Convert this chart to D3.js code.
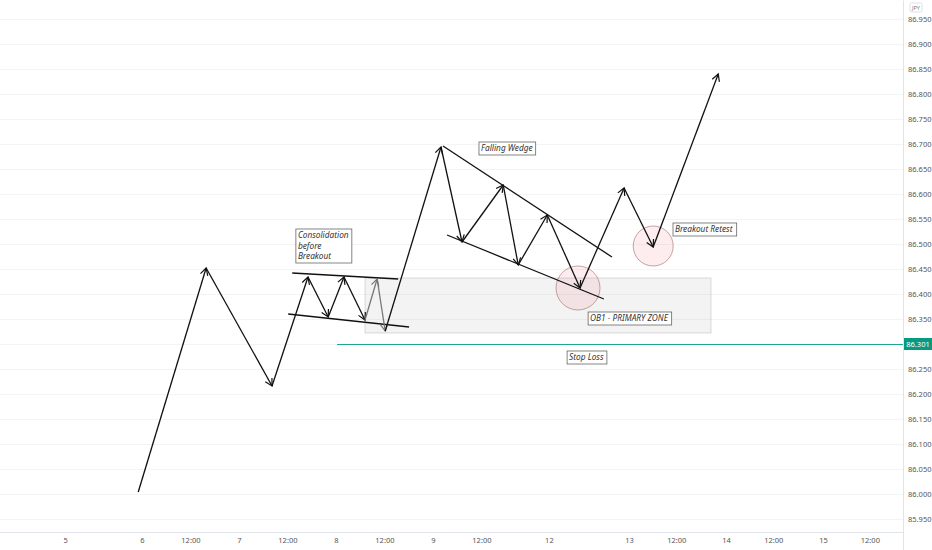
<!DOCTYPE html>
<html>
<head>
<meta charset="utf-8">
<script src="https://cdn.jsdelivr.net/npm/d3@7"></script>
<style>
  body { margin: 0; background: #fff; }
  svg { display: block; }
</style>
</head>
<body>
<script>
// x values are trading hours from the "5" tick, y values are USD/JPY-like prices
const xTickValues = [0, 19, 31, 43, 55, 67, 79, 91, 103, 119.7, 139.5, 151.2, 163.5, 175.2, 187.5, 199.1];
const xTickLabels = ["5", "6", "12:00", "7", "12:00", "8", "12:00", "9", "12:00", "12", "13", "12:00", "14", "12:00", "15", "12:00"];

const yTicks = d3.range(0, 21).map(i => +(85.95 + i * 0.05).toFixed(3));

// main zigzag path (each leg ends in an arrow)
const pathX = [18.1, 34.9, 51.2, 60.1, 65.1, 69.0, 74.2, 77.2, 79.2, 93.0, 98.2, 108.4, 112.1, 119.3, 127.4, 138.3, 145.5, 161.6];
const pathY = [86.004, 86.452, 86.216, 86.434, 86.354, 86.434, 86.348, 86.430, 86.326, 86.694, 86.504, 86.618, 86.458, 86.558, 86.412, 86.612, 86.494, 86.840];
const greyLegs = [7, 8]; // legs ending at these indexes are drawn grey

// trend lines [x1, y1, x2, y2]
const trendLines = [
  [56.2, 86.442, 82.4, 86.430],
  [55.2, 86.360, 85.1, 86.334],
  [93.5, 86.696, 135.3, 86.474],
  [94.5, 86.518, 133.3, 86.390]
];

const zone = { x1: 74.2, x2: 159.8, top: 86.432, bottom: 86.322 };
const stopLoss = { x: 67.3, price: 86.301 };

const circleX = [126.9, 145.5];
const circleY = [86.412, 86.496];
const circleR = [22, 20];

const noteText = [["Consolidation", "before", "Breakout"], ["Falling Wedge"], ["Breakout Retest"], ["OB1 - PRIMARY ZONE"], ["Stop Loss"]];
const noteX = [57.1, 102.4, 150.4, 129.4, 124.2];
const noteY = [86.530, 86.704, 86.542, 86.364, 86.286];

const width = 932, height = 550;
const plotRight = 903, plotBottom = 532;

const svg = d3.select("body").append("svg")
  .attr("width", width)
  .attr("height", height)
  .attr("viewBox", [0, 0, width, height]);

const x = d3.scaleLinear().domain([-16.1, 207.3]).range([0, plotRight]);
const y = d3.scaleLinear().domain([85.924, 86.988]).range([plotBottom, 0]);

// grid
svg.append("g").selectAll("line")
  .data(yTicks)
  .enter().append("line")
  .attr("x1", 0).attr("x2", plotRight)
  .attr("y1", d => Math.round(y(d)) + 0.5).attr("y2", d => Math.round(y(d)) + 0.5)
  .style("stroke", "#f3f4f6");

// right axis
const yAxis = svg.append("g")
  .attr("transform", `translate(${plotRight},0)`)
  .call(d3.axisRight(y).tickValues(yTicks).tickFormat(d3.format(".3f")).tickSize(0).tickPadding(5));
yAxis.select(".domain").style("stroke", "#e0e3eb");
yAxis.selectAll("text")
  .style("font-family", "'Noto Sans', sans-serif")
  .style("font-size", "7.5px")
  .style("fill", "#555");

// bottom axis
const xAxis = svg.append("g")
  .attr("transform", `translate(0,${plotBottom})`)
  .call(d3.axisBottom(x).tickValues(xTickValues).tickFormat((d, i) => xTickLabels[i]).tickSize(0).tickPadding(6));
xAxis.select(".domain").attr("d", `M0,0.5H${plotRight}`).style("stroke", "#e0e3eb");
xAxis.selectAll("text")
  .style("font-family", "'Noto Sans', sans-serif")
  .style("font-size", "7.5px")
  .style("fill", "#555");

svg.append("line")
  .attr("x1", plotRight + 0.5).attr("x2", plotRight + 0.5)
  .attr("y1", plotBottom).attr("y2", height)
  .style("stroke", "#e0e3eb");

// currency tag
svg.append("rect")
  .attr("x", 910).attr("y", 3).attr("width", 12).attr("height", 9)
  .attr("rx", 1.5)
  .style("fill", "#fff").style("stroke", "#d6d8de").style("stroke-width", 0.8);
svg.append("text")
  .attr("x", 916).attr("y", 10)
  .attr("text-anchor", "middle")
  .style("font-family", "'Noto Sans', sans-serif")
  .style("font-size", "5.5px")
  .style("fill", "#777")
  .text("JPY");

// zone
svg.append("rect")
  .attr("x", x(zone.x1)).attr("y", y(zone.top))
  .attr("width", x(zone.x2) - x(zone.x1))
  .attr("height", y(zone.bottom) - y(zone.top))
  .style("fill", "rgba(120,123,134,0.09)")
  .style("stroke", "rgba(120,123,134,0.25)");

// stop loss
const slY = Math.round(y(stopLoss.price)) + 0.5;
svg.append("line")
  .attr("x1", x(stopLoss.x)).attr("x2", plotRight)
  .attr("y1", slY).attr("y2", slY)
  .style("stroke", "#1ea58f").style("stroke-width", 1);
svg.append("rect")
  .attr("x", plotRight + 1).attr("y", slY - 6.5)
  .attr("width", 28).attr("height", 12)
  .style("fill", "#089981");
svg.append("text")
  .attr("x", plotRight + 15).attr("y", slY + 2.5)
  .attr("text-anchor", "middle")
  .style("font-family", "'Noto Sans', sans-serif")
  .style("font-size", "7.5px")
  .style("fill", "#fff")
  .text(d3.format(".3f")(stopLoss.price));

// circles
svg.append("g").selectAll("circle")
  .data(circleX)
  .enter().append("circle")
  .attr("cx", d => x(d))
  .attr("cy", (d, i) => y(circleY[i]))
  .attr("r", (d, i) => circleR[i])
  .style("fill", "rgba(242,54,69,0.09)")
  .style("stroke", "rgba(150,90,90,0.6)")
  .style("stroke-width", 0.9);

// arrow markers
const defs = svg.append("defs");
[["arrow", "#111"], ["arrowGrey", "#777"]].forEach(([id, c]) => {
  defs.append("marker")
    .attr("id", id)
    .attr("markerUnits", "userSpaceOnUse")
    .attr("viewBox", "-10 -6 12 12")
    .attr("refX", 0).attr("refY", 0)
    .attr("markerWidth", 12).attr("markerHeight", 12)
    .attr("orient", "auto")
    .append("path")
    .attr("d", "M-7,-3.8L0,0L-7,3.8")
    .style("fill", "none")
    .style("stroke", c)
    .style("stroke-width", 1.2);
});

// trend lines
svg.append("g").selectAll("line")
  .data(trendLines)
  .enter().append("line")
  .attr("x1", d => x(d[0])).attr("y1", d => y(d[1]))
  .attr("x2", d => x(d[2])).attr("y2", d => y(d[3]))
  .style("stroke", "#111").style("stroke-width", 1.3);

// zigzag legs
const legs = d3.range(1, pathX.length);
svg.append("g").selectAll("line")
  .data(legs)
  .enter().append("line")
  .attr("x1", i => x(pathX[i - 1])).attr("y1", i => y(pathY[i - 1]))
  .attr("x2", i => x(pathX[i])).attr("y2", i => y(pathY[i]))
  .style("stroke", i => greyLegs.includes(i) ? "#777" : "#111")
  .style("stroke-width", 1.3)
  .attr("marker-end", i => greyLegs.includes(i) ? "url(#arrowGrey)" : "url(#arrow)");

// notes
const lineH = 10.5;
noteText.forEach((lines, i) => {
  const g = svg.append("g").attr("transform", `translate(${x(noteX[i])},${y(noteY[i])})`);
  const box = g.append("rect").style("fill", "#fff").style("stroke", "#666").style("stroke-width", 0.8);
  const t = g.append("text")
    .style("font-family", "'Noto Sans', sans-serif")
    .style("font-style", "italic")
    .style("font-size", "8.3px")
    .style("fill", "#333");
  lines.forEach((s, j) => {
    t.append("tspan").attr("x", 2).attr("y", 9 + j * lineH).text(s);
  });
  const bb = t.node().getBBox();
  box.attr("x", 0).attr("y", 0)
    .attr("width", bb.width + 5)
    .attr("height", lines.length * lineH + 2.5);
});
</script>
</body>
</html>
